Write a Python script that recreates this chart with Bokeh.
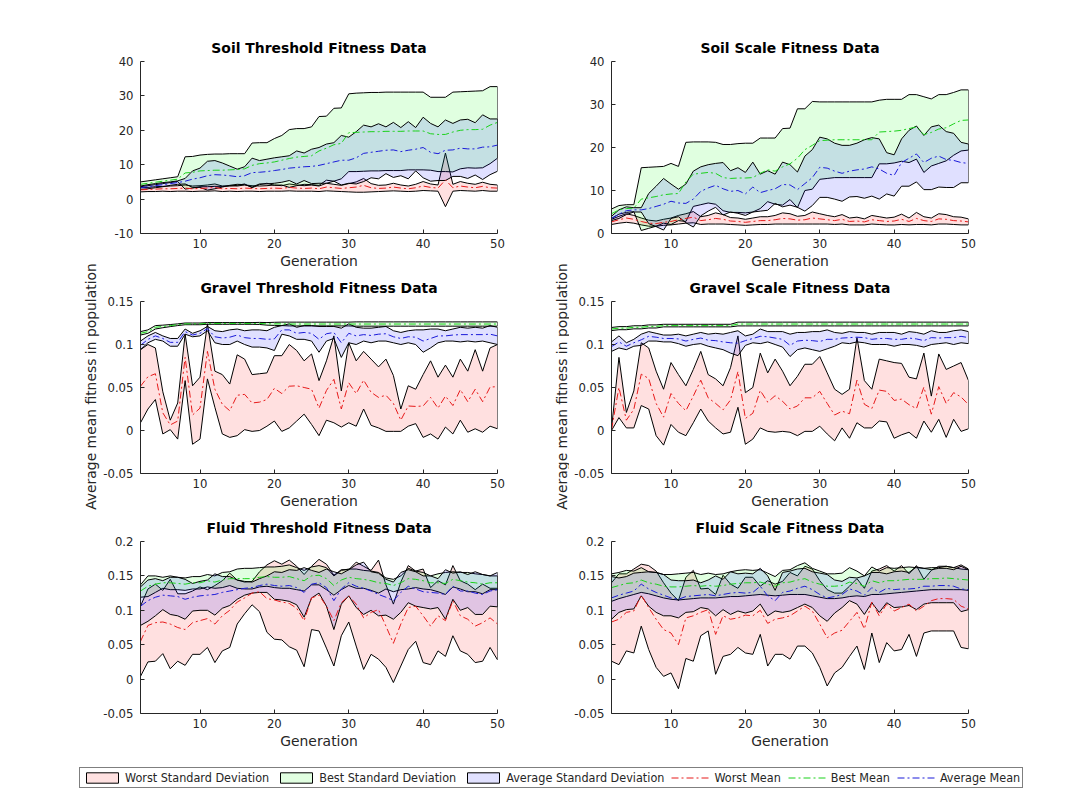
import numpy as np
from bokeh.plotting import figure
from bokeh.layouts import row, column
from bokeh.models import Range1d, FixedTicker, Legend, LegendItem
from bokeh.embed import file_html
from bokeh.resources import INLINE
from bokeh.core.properties import value

generations = np.arange(2, 51)

# ---------------- Soil, threshold ----------------
soil_thr_worst_mean = [2.7, 2.8, 2.9, 3.0, 3.0, 3.1, 3.2, 3.0, 3.1, 3.2,
                       3.4, 3.0, 3.1, 3.0, 3.2, 3.1, 3.0, 3.1, 3.2, 3.1,
                       3.4, 3.2, 3.1, 3.2, 3.0, 3.5, 3.3, 3.1, 3.3, 3.5,
                       4.0, 3.3, 3.1, 3.2, 3.5, 3.2, 3.0, 3.3, 3.8, 3.4,
                       3.2, 5.6, 3.3, 3.8, 3.5, 3.3, 3.7, 3.3, 3.2]
soil_thr_worst_std = [0.6, 0.6, 0.7, 0.7, 0.8, 0.8, 0.9, 0.8, 0.8, 0.9,
                      1.0, 0.8, 0.8, 0.8, 0.9, 0.8, 0.8, 0.8, 0.9, 0.8,
                      1.0, 0.9, 0.8, 0.9, 0.8, 1.1, 1.0, 0.9, 1.2, 1.5,
                      2.0, 1.2, 0.9, 0.9, 1.1, 0.9, 0.8, 1.0, 1.3, 1.0,
                      0.9, 7.8, 1.0, 1.3, 1.1, 1.0, 1.2, 1.0, 0.9]
soil_thr_best_mean = [4.3, 4.6, 4.9, 5.2, 5.5, 5.8, 7.6, 7.8, 8.2, 8.3,
                      8.4, 8.4, 8.5, 8.6, 8.8, 9.8, 10.3, 10.5, 10.8, 11.3,
                      11.8, 12.2, 12.4, 12.6, 14.0, 14.8, 15.8, 16.2, 19.3, 19.4,
                      19.5, 19.6, 19.6, 19.7, 19.7, 19.7, 19.8, 19.8, 19.8, 19.0,
                      18.8, 18.8, 19.5, 20.0, 20.2, 20.2, 20.3, 21.5, 22.3]
soil_thr_best_std = [0.7, 0.7, 0.7, 0.7, 0.7, 0.7, 4.7, 4.6, 4.6, 4.7,
                     4.7, 4.7, 4.7, 4.6, 4.4, 6.5, 6.1, 5.9, 6.8, 7.2,
                     8.4, 8.3, 8.1, 8.4, 10.0, 9.3, 10.6, 10.3, 11.3, 11.4,
                     11.4, 11.4, 11.4, 11.4, 11.4, 11.4, 11.3, 11.3, 11.3, 10.6,
                     10.8, 10.8, 11.6, 11.2, 11.1, 11.2, 11.2, 11.2, 10.4]
soil_thr_avg_mean = [3.3, 3.6, 3.9, 4.2, 4.5, 4.8, 5.2, 5.8, 6.2, 6.8,
                     7.1, 7.0, 6.8, 6.5, 6.8, 7.7, 7.8, 8.0, 8.3, 8.6,
                     9.0, 9.2, 9.4, 9.5, 9.8, 10.3, 10.8, 11.3, 11.3, 12.0,
                     13.3, 13.6, 13.9, 14.2, 14.3, 13.8, 14.2, 14.5, 15.0, 13.6,
                     13.2, 14.2, 14.3, 14.8, 14.6, 14.6, 15.1, 15.2, 15.7]
soil_thr_avg_std = [0.5, 0.6, 0.6, 0.6, 0.5, 0.5, 0.8, 2.4, 2.8, 4.2,
                    4.1, 3.5, 2.8, 2.2, 2.6, 4.2, 3.4, 3.6, 3.7, 3.7,
                    3.6, 4.8, 4.0, 5.0, 5.2, 5.7, 5.6, 7.2, 6.7, 7.6,
                    8.2, 7.4, 8.0, 6.8, 8.0, 7.0, 8.3, 6.3, 8.8, 8.4,
                    7.8, 8.8, 7.7, 8.2, 8.6, 7.6, 9.4, 8.1, 7.6]

# ---------------- Soil, scale ----------------
soil_scl_worst_mean = [2.7, 3.2, 3.6, 3.3, 2.8, 2.4, 2.3, 2.6, 2.8, 3.2,
                       3.5, 3.8, 3.0, 3.2, 3.5, 3.3, 2.9, 2.8, 2.6, 2.8,
                       3.0, 3.0, 3.2, 3.5, 3.4, 3.1, 3.2, 3.6, 3.4, 3.2,
                       3.0, 3.3, 2.8, 2.9, 2.7, 3.2, 3.0, 2.8, 2.9, 3.3,
                       2.8, 3.5, 3.0, 2.8, 3.4, 3.3, 3.0, 2.9, 2.7]
soil_scl_worst_std = [0.6, 0.8, 1.0, 0.9, 0.8, 0.7, 0.6, 0.7, 0.8, 1.0,
                      1.1, 1.3, 0.9, 1.0, 1.3, 1.1, 0.8, 0.8, 0.7, 0.8,
                      0.9, 0.9, 1.0, 1.3, 1.2, 0.9, 1.0, 1.4, 1.2, 1.0,
                      0.9, 1.1, 0.8, 0.9, 0.7, 1.0, 0.9, 0.8, 0.9, 1.2,
                      0.8, 1.4, 0.9, 0.8, 1.2, 1.1, 0.9, 0.9, 0.7]
soil_scl_best_mean = [4.6, 5.5, 5.8, 5.9, 8.0, 8.3, 8.6, 9.0, 9.2, 9.3,
                      12.0, 13.8, 14.0, 14.2, 14.0, 13.0, 12.8, 12.9, 12.9, 13.0,
                      14.0, 14.8, 14.5, 15.5, 16.2, 17.5, 19.5, 20.5, 21.6, 21.7,
                      21.8, 21.8, 21.8, 21.8, 21.8, 21.8, 23.6, 23.7, 23.8, 24.0,
                      24.4, 24.8, 23.0, 23.5, 24.3, 24.6, 25.5, 26.3, 26.4]
soil_scl_best_std = [1.1, 1.0, 0.9, 0.8, 7.3, 7.1, 6.9, 6.6, 7.1, 6.3,
                     9.2, 7.5, 7.3, 7.1, 7.2, 7.7, 7.9, 8.0, 8.1, 8.0,
                     8.2, 7.4, 7.7, 8.9, 8.3, 11.5, 9.5, 10.2, 9.0, 8.9,
                     8.8, 8.8, 8.8, 8.8, 8.8, 8.8, 7.4, 7.5, 7.4, 7.2,
                     7.9, 7.5, 8.8, 7.8, 8.0, 7.7, 7.3, 7.1, 7.0]
soil_scl_avg_mean = [3.5, 4.5, 5.3, 5.5, 5.5, 5.8, 6.3, 6.8, 7.5, 7.1,
                     7.0, 8.0, 9.8, 10.6, 11.2, 10.4, 9.8, 10.0, 9.2, 10.8,
                     9.5, 10.0, 10.4, 11.4, 11.3, 10.2, 11.6, 13.0, 15.4, 15.2,
                     14.5, 14.0, 14.5, 14.8, 15.0, 15.5, 15.0, 14.0, 13.5, 16.5,
                     17.5, 18.5, 16.5, 17.5, 18.0, 17.2, 17.0, 16.5, 16.3]
soil_scl_avg_std = [0.5, 1.0, 0.9, 0.5, 0.5, 3.5, 4.7, 6.0, 4.0, 3.2,
                    4.5, 6.5, 5.7, 5.4, 5.1, 6.1, 4.8, 5.3, 5.0, 5.8,
                    4.3, 4.6, 3.4, 5.2, 4.7, 4.1, 6.4, 6.5, 7.0, 6.8,
                    6.5, 6.5, 6.0, 6.2, 6.8, 6.8, 7.0, 4.8, 4.8, 5.5,
                    6.5, 6.5, 6.3, 7.3, 7.2, 6.5, 6.3, 4.7, 4.5]

# ---------------- Gravel, threshold ----------------
gravel_thr_worst_mean = [0.0515, 0.0625, 0.066, 0.0205, 0.0065, 0.011, 0.085, 0.018, 0.026, 0.092,
                         0.048, 0.0305, 0.023, 0.041, 0.042, 0.032, 0.033, 0.036, 0.049, 0.043,
                         0.0515, 0.052, 0.050, 0.048, 0.026, 0.0465, 0.0595, 0.025, 0.0555, 0.043,
                         0.0585, 0.0445, 0.0385, 0.041, 0.0315, 0.012, 0.0285, 0.028, 0.0285, 0.0385,
                         0.026, 0.040, 0.029, 0.0475, 0.0335, 0.048, 0.0335, 0.0505, 0.051]
gravel_thr_worst_std = [0.0425, 0.0375, 0.030, 0.0245, 0.0055, 0.021, 0.027, 0.034, 0.036, 0.032,
                        0.021, 0.0345, 0.031, 0.047, 0.041, 0.033, 0.033, 0.031, 0.038, 0.044,
                        0.0485, 0.041, 0.031, 0.041, 0.032, 0.0345, 0.0505, 0.021, 0.0465, 0.038,
                        0.0335, 0.0385, 0.0355, 0.042, 0.0325, 0.013, 0.0235, 0.020, 0.0365, 0.0425,
                        0.036, 0.036, 0.033, 0.0355, 0.0355, 0.046, 0.0355, 0.0455, 0.049]
gravel_thr_best_mean = [0.113, 0.115, 0.120, 0.121, 0.122, 0.123, 0.124, 0.124, 0.124, 0.1245,
                        0.1245, 0.1245, 0.1245, 0.1245, 0.1245, 0.1245, 0.1245, 0.124, 0.124, 0.124,
                        0.1238, 0.1238, 0.1238, 0.1238, 0.1238, 0.1238, 0.1238, 0.1238, 0.1238, 0.1238,
                        0.1238, 0.1238, 0.1238, 0.1238, 0.1238, 0.1238, 0.1238, 0.1238, 0.1238, 0.1238,
                        0.1238, 0.1238, 0.1238, 0.1238, 0.1238, 0.1238, 0.1238, 0.1238, 0.1238]
gravel_thr_best_std = [0.002, 0.002, 0.002, 0.0015, 0.0012, 0.001, 0.001, 0.001, 0.001, 0.001,
                       0.001, 0.001, 0.001, 0.001, 0.001, 0.001, 0.0012, 0.0015, 0.0018, 0.002,
                       0.0022, 0.0022, 0.0022, 0.0022, 0.0022, 0.0022, 0.0022, 0.0022, 0.0022, 0.0025,
                       0.0025, 0.0025, 0.0025, 0.0025, 0.0025, 0.0025, 0.0025, 0.0025, 0.0025, 0.0025,
                       0.0025, 0.0025, 0.0025, 0.0025, 0.0025, 0.0025, 0.0025, 0.0025, 0.0025]
gravel_thr_avg_mean = [0.099, 0.106, 0.110, 0.107, 0.1025, 0.1025, 0.115, 0.111, 0.113, 0.1185,
                       0.109, 0.1075, 0.1085, 0.111, 0.108, 0.107, 0.107, 0.106, 0.1065, 0.117,
                       0.117, 0.113, 0.114, 0.113, 0.106, 0.1125, 0.114, 0.102, 0.113, 0.110,
                       0.1115, 0.1105, 0.112, 0.1125, 0.109, 0.107, 0.109, 0.1085, 0.104, 0.107,
                       0.110, 0.110, 0.111, 0.1115, 0.1115, 0.1115, 0.1115, 0.112, 0.110]
gravel_thr_avg_std = [0.005, 0.004, 0.004, 0.003, 0.0045, 0.0045, 0.003, 0.002, 0.003, 0.0025,
                      0.007, 0.0075, 0.0085, 0.007, 0.008, 0.010, 0.010, 0.010, 0.0135, 0.005,
                      0.007, 0.007, 0.008, 0.009, 0.015, 0.0085, 0.007, 0.017, 0.011, 0.010,
                      0.0075, 0.0085, 0.008, 0.0085, 0.007, 0.007, 0.007, 0.0085, 0.013, 0.011,
                      0.008, 0.006, 0.007, 0.0085, 0.0075, 0.0085, 0.0075, 0.010, 0.010]

# ---------------- Gravel, scale ----------------
gravel_scl_worst_mean = [0.001, 0.050, 0.012, 0.0245, 0.0655, 0.0605, 0.0315, 0.0155, 0.043, 0.0315,
                         0.023, 0.040, 0.0585, 0.038, 0.0315, 0.024, 0.0355, 0.0685, 0.014, 0.020,
                         0.0465, 0.033, 0.0405, 0.034, 0.025, 0.0285, 0.038, 0.038, 0.0455, 0.0315,
                         0.018, 0.0225, 0.0195, 0.0585, 0.0305, 0.0255, 0.047, 0.0455, 0.035, 0.0365,
                         0.030, 0.0255, 0.0505, 0.019, 0.051, 0.0315, 0.044, 0.039, 0.030]
gravel_scl_worst_std = [0.001, 0.035, 0.009, 0.0215, 0.0365, 0.0355, 0.0375, 0.0325, 0.036, 0.0335,
                        0.029, 0.031, 0.0335, 0.027, 0.0285, 0.028, 0.0375, 0.0415, 0.030, 0.030,
                        0.0435, 0.034, 0.0425, 0.035, 0.027, 0.0345, 0.039, 0.039, 0.0405, 0.0355,
                        0.030, 0.0195, 0.0285, 0.0495, 0.0275, 0.0225, 0.036, 0.0355, 0.044, 0.0415,
                        0.032, 0.0345, 0.0395, 0.021, 0.038, 0.0395, 0.031, 0.040, 0.028]
gravel_scl_best_mean = [0.118, 0.119, 0.119, 0.120, 0.120, 0.121, 0.121, 0.122, 0.122, 0.122,
                        0.122, 0.122, 0.122, 0.122, 0.122, 0.122, 0.122, 0.1238, 0.1238, 0.1238,
                        0.1238, 0.1238, 0.1238, 0.1238, 0.1238, 0.1238, 0.1238, 0.1238, 0.1238, 0.1238,
                        0.1238, 0.1238, 0.1238, 0.1238, 0.1238, 0.1238, 0.1238, 0.1238, 0.1238, 0.1238,
                        0.1238, 0.1238, 0.1238, 0.1238, 0.1238, 0.1238, 0.1238, 0.1238, 0.1238]
gravel_scl_best_std = [0.0018, 0.0018, 0.0018, 0.0018, 0.0018, 0.0018, 0.0018, 0.0015, 0.0015, 0.0015,
                       0.0015, 0.0015, 0.0015, 0.0015, 0.0015, 0.0015, 0.0015, 0.0022, 0.0022, 0.0022,
                       0.0022, 0.0022, 0.0022, 0.0022, 0.0022, 0.0022, 0.0022, 0.0022, 0.0022, 0.0022,
                       0.0022, 0.0022, 0.0022, 0.0022, 0.0022, 0.0022, 0.0022, 0.0022, 0.0022, 0.0022,
                       0.0022, 0.0022, 0.0022, 0.0022, 0.0022, 0.0022, 0.0022, 0.0022, 0.0022]
gravel_scl_avg_mean = [0.0975, 0.103, 0.098, 0.102, 0.1055, 0.1095, 0.1085, 0.107, 0.107, 0.1065,
                       0.104, 0.106, 0.1075, 0.105, 0.1045, 0.103, 0.102, 0.1015, 0.1045, 0.107,
                       0.1095, 0.109, 0.1075, 0.106, 0.099, 0.104, 0.105, 0.1045, 0.1035, 0.106,
                       0.106, 0.1075, 0.108, 0.1085, 0.108, 0.106, 0.107, 0.107, 0.106, 0.106,
                       0.1075, 0.1065, 0.1045, 0.108, 0.1075, 0.108, 0.108, 0.1095, 0.108]
gravel_scl_avg_std = [0.0055, 0.007, 0.004, 0.004, 0.0065, 0.0055, 0.0045, 0.004, 0.004, 0.0055,
                      0.006, 0.006, 0.0065, 0.007, 0.0085, 0.009, 0.012, 0.0145, 0.0055, 0.005,
                      0.0085, 0.006, 0.0075, 0.009, 0.013, 0.010, 0.009, 0.0105, 0.0115, 0.011,
                      0.008, 0.0055, 0.007, 0.0055, 0.006, 0.006, 0.007, 0.007, 0.008, 0.006,
                      0.0075, 0.0075, 0.0075, 0.008, 0.0065, 0.006, 0.008, 0.0075, 0.007]

# ---------------- Fluid, threshold ----------------
fluid_thr_worst_mean = [0.055, 0.078, 0.082, 0.083, 0.080, 0.075, 0.072, 0.082, 0.085, 0.088,
                        0.080, 0.092, 0.100, 0.112, 0.118, 0.125, 0.127, 0.117, 0.115, 0.112,
                        0.110, 0.103, 0.085, 0.118, 0.122, 0.106, 0.085, 0.111, 0.121, 0.109,
                        0.089, 0.097, 0.101, 0.077, 0.052, 0.080, 0.104, 0.106, 0.092, 0.077,
                        0.092, 0.085, 0.114, 0.092, 0.087, 0.077, 0.082, 0.089, 0.080]
fluid_thr_worst_std = [0.051, 0.053, 0.056, 0.046, 0.065, 0.049, 0.052, 0.046, 0.049, 0.042,
                       0.056, 0.051, 0.054, 0.032, 0.023, 0.017, 0.029, 0.049, 0.057, 0.055,
                       0.063, 0.061, 0.067, 0.046, 0.052, 0.061, 0.066, 0.048, 0.038, 0.061,
                       0.075, 0.061, 0.072, 0.060, 0.057, 0.061, 0.061, 0.051, 0.068, 0.056,
                       0.051, 0.052, 0.051, 0.051, 0.051, 0.053, 0.056, 0.043, 0.052]
fluid_thr_best_mean = [0.128, 0.135, 0.138, 0.140, 0.140, 0.139, 0.138, 0.140, 0.140, 0.143,
                       0.141, 0.144, 0.146, 0.146, 0.146, 0.146, 0.148, 0.149, 0.148, 0.148,
                       0.149, 0.146, 0.143, 0.150, 0.151, 0.146, 0.136, 0.144, 0.148, 0.146,
                       0.145, 0.143, 0.140, 0.139, 0.136, 0.140, 0.146, 0.145, 0.143, 0.140,
                       0.140, 0.139, 0.145, 0.143, 0.141, 0.140, 0.138, 0.140, 0.140]
fluid_thr_best_std = [0.009, 0.015, 0.012, 0.008, 0.010, 0.009, 0.009, 0.009, 0.009, 0.009,
                      0.009, 0.011, 0.010, 0.014, 0.015, 0.015, 0.014, 0.014, 0.015, 0.016,
                      0.017, 0.016, 0.015, 0.013, 0.014, 0.016, 0.014, 0.014, 0.012, 0.014,
                      0.013, 0.014, 0.015, 0.008, 0.009, 0.010, 0.015, 0.012, 0.012, 0.010,
                      0.013, 0.016, 0.011, 0.012, 0.014, 0.013, 0.014, 0.010, 0.010]
fluid_thr_avg_mean = [0.106, 0.114, 0.119, 0.122, 0.121, 0.120, 0.116, 0.119, 0.121, 0.122,
                      0.123, 0.126, 0.128, 0.130, 0.132, 0.133, 0.136, 0.138, 0.136, 0.135,
                      0.136, 0.133, 0.126, 0.138, 0.140, 0.133, 0.114, 0.131, 0.140, 0.135,
                      0.132, 0.128, 0.123, 0.119, 0.114, 0.126, 0.135, 0.131, 0.127, 0.126,
                      0.125, 0.123, 0.135, 0.128, 0.128, 0.125, 0.123, 0.128, 0.130]
fluid_thr_avg_std = [0.028, 0.030, 0.027, 0.021, 0.027, 0.028, 0.029, 0.020, 0.021, 0.022,
                     0.030, 0.023, 0.021, 0.014, 0.010, 0.008, 0.010, 0.012, 0.020, 0.020,
                     0.023, 0.025, 0.036, 0.020, 0.015, 0.027, 0.042, 0.022, 0.019, 0.031,
                     0.038, 0.028, 0.031, 0.026, 0.027, 0.029, 0.024, 0.025, 0.023, 0.024,
                     0.021, 0.036, 0.019, 0.028, 0.024, 0.031, 0.029, 0.022, 0.025]

# ---------------- Fluid, scale ----------------
fluid_scl_worst_mean = [0.083, 0.087, 0.097, 0.099, 0.122, 0.104, 0.087, 0.072, 0.067, 0.050,
                        0.089, 0.092, 0.097, 0.101, 0.065, 0.092, 0.087, 0.089, 0.093, 0.092,
                        0.100, 0.081, 0.087, 0.089, 0.092, 0.099, 0.106, 0.099, 0.080, 0.060,
                        0.067, 0.071, 0.084, 0.097, 0.073, 0.112, 0.092, 0.109, 0.099, 0.104,
                        0.109, 0.099, 0.106, 0.114, 0.117, 0.117, 0.116, 0.106, 0.102]
fluid_scl_worst_std = [0.057, 0.066, 0.056, 0.061, 0.045, 0.061, 0.070, 0.068, 0.058, 0.064,
                       0.059, 0.066, 0.034, 0.031, 0.058, 0.059, 0.051, 0.043, 0.055, 0.056,
                       0.035, 0.062, 0.051, 0.053, 0.063, 0.051, 0.058, 0.061, 0.063, 0.070,
                       0.058, 0.054, 0.051, 0.049, 0.059, 0.045, 0.068, 0.056, 0.058, 0.061,
                       0.044, 0.066, 0.039, 0.044, 0.047, 0.047, 0.046, 0.060, 0.058]
fluid_scl_best_mean = [0.133, 0.136, 0.139, 0.140, 0.144, 0.140, 0.138, 0.135, 0.134, 0.134,
                       0.135, 0.136, 0.135, 0.136, 0.135, 0.136, 0.138, 0.139, 0.140, 0.140,
                       0.141, 0.138, 0.135, 0.140, 0.141, 0.144, 0.146, 0.141, 0.138, 0.135,
                       0.135, 0.136, 0.141, 0.139, 0.135, 0.143, 0.140, 0.143, 0.143, 0.144,
                       0.145, 0.145, 0.145, 0.146, 0.146, 0.147, 0.146, 0.145, 0.144]
fluid_scl_best_std = [0.020, 0.019, 0.019, 0.017, 0.018, 0.016, 0.017, 0.017, 0.018, 0.019,
                      0.019, 0.019, 0.017, 0.018, 0.017, 0.017, 0.018, 0.019, 0.019, 0.018,
                      0.018, 0.016, 0.014, 0.018, 0.018, 0.021, 0.023, 0.020, 0.019, 0.018,
                      0.018, 0.018, 0.021, 0.018, 0.015, 0.020, 0.017, 0.019, 0.018, 0.018,
                      0.018, 0.017, 0.016, 0.016, 0.016, 0.017, 0.016, 0.015, 0.015]
fluid_scl_avg_mean = [0.118, 0.122, 0.125, 0.128, 0.138, 0.131, 0.126, 0.122, 0.118, 0.116,
                      0.120, 0.121, 0.122, 0.123, 0.121, 0.123, 0.125, 0.126, 0.125, 0.126,
                      0.135, 0.121, 0.114, 0.126, 0.128, 0.132, 0.135, 0.130, 0.123, 0.118,
                      0.120, 0.123, 0.131, 0.128, 0.122, 0.133, 0.126, 0.132, 0.130, 0.131,
                      0.131, 0.132, 0.135, 0.135, 0.136, 0.136, 0.135, 0.131, 0.130]
fluid_scl_avg_std = [0.031, 0.025, 0.024, 0.026, 0.017, 0.025, 0.029, 0.030, 0.026, 0.027,
                     0.023, 0.023, 0.018, 0.021, 0.029, 0.022, 0.031, 0.027, 0.029, 0.027,
                     0.026, 0.029, 0.015, 0.029, 0.029, 0.028, 0.026, 0.026, 0.031, 0.034,
                     0.024, 0.019, 0.017, 0.019, 0.028, 0.022, 0.029, 0.021, 0.026, 0.026,
                     0.024, 0.031, 0.026, 0.024, 0.025, 0.025, 0.024, 0.033, 0.029]

FONT = "DejaVu Sans"
LEGEND_FONT = "DejaVu Sans Condensed, DejaVu Sans"
INK = "#262626"
DASH = "7 3 2 3"
BAND_ALPHA = 0.12

# (key, legend name, band fill, band fill as seen on white, mean line colour)
SERIES = [("worst", "Worst", "#ff0000", "#ffe1e1", "#e61a1a"),
          ("best", "Best", "#00ff00", "#e1ffe1", "#1ad11a"),
          ("average", "Average", "#0000ff", "#e1e1ff", "#1a1ad9")]


def make_panel(title, data, y_start, y_end, y_ticks, border_left, border_right, border_top):
    p = figure(frame_width=357, frame_height=172,
               min_border_left=border_left, min_border_right=border_right,
               min_border_top=border_top, min_border_bottom=38,
               x_range=Range1d(2, 50), y_range=Range1d(y_start, y_end),
               output_backend="svg", toolbar_location=None, tools="")
    xs = np.concatenate([generations, generations[::-1]])
    for key, _, fill, _, _ in SERIES:
        mean = np.asarray(data[key][0])
        std = np.asarray(data[key][1])
        ys = np.concatenate([mean + std, (mean - std)[::-1]])
        p.patch(xs, ys, fill_color=fill, fill_alpha=BAND_ALPHA,
                line_color="black", line_width=1)
    for key, _, _, _, line in SERIES:
        p.line(generations, data[key][0], line_color=line, line_width=1, line_dash=DASH)

    p.xaxis.ticker = FixedTicker(ticks=[10, 20, 30, 40, 50])
    p.yaxis.ticker = FixedTicker(ticks=y_ticks)
    p.yaxis.major_label_overrides = {t: f"{t:g}" for t in y_ticks}
    p.xaxis.axis_label = "Generation"
    for ax in (p.xaxis[0], p.yaxis[0]):
        ax.major_tick_in = 4
        ax.major_tick_out = 0
        ax.minor_tick_line_color = None
        ax.axis_line_color = INK
        ax.major_tick_line_color = INK
        ax.major_label_text_color = INK
        ax.major_label_text_font = FONT
        ax.major_label_text_font_size = "11.7px"
        ax.major_label_standoff = 5
        ax.axis_label_text_font = FONT
        ax.axis_label_text_font_size = "13.9px"
        ax.axis_label_text_font_style = "normal"
        ax.axis_label_text_color = INK
        ax.axis_label_standoff = 2
    p.yaxis.major_label_standoff = 7
    p.grid.visible = False
    p.outline_line_color = None
    p.background_fill_color = "white"
    p.border_fill_color = "white"
    p.title.text = title
    p.title.align = "center"
    p.title.text_font = FONT
    p.title.text_font_size = "13.9px"
    p.title.text_font_style = "bold"
    p.title.text_color = "black"
    p.title.standoff = 12
    return p


def label_strip(width, text_x, text):
    s = figure(width=width, height=750, x_range=Range1d(0, width), y_range=Range1d(0, 750),
               min_border=0, x_axis_type=None, y_axis_type=None,
               output_backend="svg", toolbar_location=None, tools="")
    s.outline_line_color = None
    s.border_fill_color = "white"
    s.text(x=[text_x], y=[750 - 386], text=[text], angle=np.pi / 2,
           text_align="center", text_baseline="middle",
           text_font=value(FONT), text_font_size="13.9px", text_color=INK)
    return s


def group(prefix):
    g = globals()
    return {"worst": (g[prefix + "_worst_mean"], g[prefix + "_worst_std"]),
            "best": (g[prefix + "_best_mean"], g[prefix + "_best_std"]),
            "average": (g[prefix + "_avg_mean"], g[prefix + "_avg_std"])}


soil_ticks = [-10, 0, 10, 20, 30, 40]
soil_scale_ticks = [0, 10, 20, 30, 40]
gravel_ticks = [-0.05, 0, 0.05, 0.1, 0.15]
fluid_ticks = [-0.05, 0, 0.05, 0.1, 0.15, 0.2]

L = dict(border_left=39, border_right=39)
R = dict(border_left=42, border_right=103)

tl = make_panel("Soil Threshold Fitness Data", group("soil_thr"), -10, 40, soil_ticks, border_top=61, **L)
tr = make_panel("Soil Scale Fitness Data", group("soil_scl"), 0, 40, soil_scale_ticks, border_top=61, **R)
ml = make_panel("Gravel Threshold Fitness Data", group("gravel_thr"), -0.05, 0.15, gravel_ticks, border_top=30, **L)
mr = make_panel("Gravel Scale Fitness Data", group("gravel_scl"), -0.05, 0.15, gravel_ticks, border_top=30, **R)
bl = make_panel("Fluid Threshold Fitness Data", group("fluid_thr"), -0.05, 0.2, fluid_ticks, border_top=30, **L)
br = make_panel("Fluid Scale Fitness Data", group("fluid_scl"), -0.05, 0.2, fluid_ticks, border_top=30, **R)

ylabel = "Average mean fitness in population"
strip_left = label_strip(100, 90, ylabel)
strip_right = label_strip(33, 25, ylabel)

# shared legend below the grid; each entry gets a proxy renderer holding a single NaN point
lg = figure(width=1070, height=51, x_range=Range1d(0, 1), y_range=Range1d(0, 1),
            min_border=0, x_axis_type=None, y_axis_type=None,
            output_backend="svg", toolbar_location=None, tools="")
lg.outline_line_color = None
items = []
for _, name, _, swatch, _ in SERIES:
    r = lg.patch(x=[np.nan], y=[np.nan], fill_color=swatch, fill_alpha=1,
                 line_color="black", line_width=1)
    items.append(LegendItem(label=f"{name} Standard Deviation", renderers=[r]))
for _, name, _, _, line in SERIES:
    r = lg.line(x=[np.nan], y=[np.nan], line_color=line, line_width=1, line_dash=DASH)
    items.append(LegendItem(label=f"{name} Mean", renderers=[r]))
legend = Legend(items=items, orientation="horizontal", location=(79, 14),
                glyph_width=40, glyph_height=13, label_height=13, label_standoff=3,
                spacing=7, padding=2, margin=0,
                border_line_color="black", border_line_width=1,
                background_fill_color="white", background_fill_alpha=1,
                label_text_font=LEGEND_FONT, label_text_font_size="12.5px",
                label_text_color=INK)
lg.add_layout(legend)

layout = column(row(strip_left, column(tl, ml, bl), strip_right, column(tr, mr, br)), lg)

with open("out.html", "w") as f:
    f.write(file_html(layout, INLINE))
